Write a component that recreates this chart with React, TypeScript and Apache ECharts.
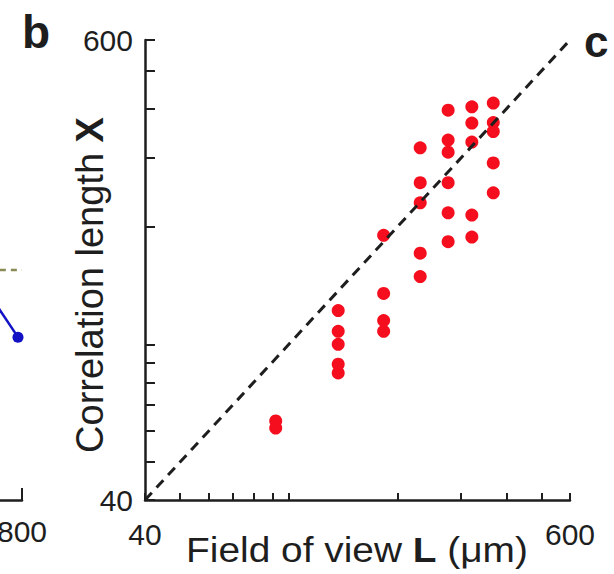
import React, { useEffect, useRef } from 'react';
import * as echarts from 'echarts';

// Panel b data: field of view L (µm) per column, correlation lengths X per column
const fieldOfView = [92, 137, 183, 231, 276, 321, 368];
const correlationLength = [
  [63.7, 61.1],
  [122, 108, 100, 89, 84.5],
  [190, 135, 115, 108],
  [318, 259, 230, 171, 149],
  [397, 333, 310, 259, 217, 183],
  [405, 368, 329, 214, 188],
  [414, 369, 350, 291, 244],
];
const axisMin = 40;
const axisMax = 600;
const tickValues = [40, 50, 60, 70, 80, 90, 100, 200, 300, 400, 500, 600];
const tickLabels = [40, 600];
const identityLine = [
  [40, 40],
  [600, 600],
];

// Fragment of neighbouring panel (a) at the left edge
const panelAMax = 800;
const panelATicks = [800];
const panelABlue = [
  [700, 0.472],
  [790, 0.354],
];
const panelADashed = [
  [745, 0.5],
  [800, 0.5],
];

const FONT = '"Liberation Sans", Arial, Helvetica, sans-serif';
const INK = '#1e1e1e';

export default function App() {
  const ref = useRef<HTMLDivElement>(null);
  useEffect(() => {
    document.body.style.margin = '0';
    const chart = echarts.init(ref.current!, null, { renderer: 'svg' });
    const scatterData: number[][] = [];
    fieldOfView.forEach((L, i) => {
      correlationLength[i].forEach((X) => scatterData.push([L, X]));
    });
    const axisLineStyle = { color: INK, width: 2.5 };
    const option: any = {
      animation: false,
      backgroundColor: '#ffffff',
      textStyle: { fontFamily: FONT },
      grid: [
        { left: 145, top: 40, width: 425, height: 460, outerBoundsMode: 'none', containLabel: false },
        { left: -300, top: 40, width: 322, height: 460, outerBoundsMode: 'none', containLabel: false },
      ],
      xAxis: [
        {
          type: 'log',
          gridIndex: 0,
          min: axisMin,
          max: axisMax,
          axisLine: { lineStyle: axisLineStyle },
          axisTick: {
            inside: true,
            length: 7,
            lineStyle: { color: INK, width: 2 },
            customValues: tickValues,
          },
          axisLabel: {
            customValues: tickLabels,
            fontSize: 30,
            color: INK,
            margin: 19,
            fontFamily: FONT,
          },
          splitLine: { show: false },
          minorTick: { show: false },
        },
        {
          type: 'value',
          gridIndex: 1,
          min: 0,
          max: panelAMax,
          axisLine: { lineStyle: axisLineStyle },
          axisTick: {
            inside: true,
            length: 12,
            lineStyle: { color: INK, width: 2 },
            customValues: panelATicks,
          },
          axisLabel: {
            customValues: panelATicks,
            fontSize: 30,
            color: INK,
            margin: 16,
            fontFamily: FONT,
          },
          splitLine: { show: false },
        },
      ],
      yAxis: [
        {
          type: 'log',
          gridIndex: 0,
          min: axisMin,
          max: axisMax,
          axisLine: { lineStyle: axisLineStyle },
          axisTick: {
            inside: true,
            length: 10,
            lineStyle: { color: INK, width: 2 },
            customValues: tickValues,
          },
          axisLabel: {
            customValues: tickLabels,
            fontSize: 30,
            color: INK,
            margin: 12,
            fontFamily: FONT,
          },
          splitLine: { show: false },
          minorTick: { show: false },
        },
        {
          type: 'value',
          gridIndex: 1,
          min: 0,
          max: 1,
          show: false,
        },
      ],
      series: [
        {
          type: 'scatter',
          xAxisIndex: 0,
          yAxisIndex: 0,
          data: scatterData,
          symbolSize: 13,
          itemStyle: { color: '#f50f1e', opacity: 1 },
          z: 2,
        },
        {
          type: 'line',
          xAxisIndex: 0,
          yAxisIndex: 0,
          data: identityLine,
          showSymbol: false,
          symbol: 'none',
          lineStyle: { color: INK, width: 3, type: [10, 7] },
          z: 3,
        },
        {
          type: 'line',
          xAxisIndex: 1,
          yAxisIndex: 1,
          data: panelABlue,
          symbol: 'circle',
          symbolSize: 11,
          itemStyle: { color: '#1212c4' },
          lineStyle: { color: '#1212c4', width: 2.5 },
          clip: false,
        },
        {
          type: 'line',
          xAxisIndex: 1,
          yAxisIndex: 1,
          data: panelADashed,
          symbol: 'none',
          lineStyle: { color: '#8a8a55', width: 2.5, type: [6, 5] },
          clip: false,
        },
      ],
      graphic: [
        {
          type: 'text',
          x: 22,
          y: 32,
          style: {
            text: 'b',
            fontSize: 46,
            fontWeight: 'bold',
            fontFamily: FONT,
            fill: INK,
            align: 'left',
            verticalAlign: 'middle',
          },
        },
        {
          type: 'text',
          x: 584,
          y: 41,
          style: {
            text: 'c',
            fontSize: 44,
            fontWeight: 'bold',
            fontFamily: FONT,
            fill: INK,
            align: 'left',
            verticalAlign: 'middle',
          },
        },
        {
          type: 'text',
          x: 357,
          y: 550,
          scaleX: 1.11,
          style: {
            text: 'Field of view {b|L} (μm)',
            fontSize: 35,
            fontFamily: FONT,
            fill: INK,
            align: 'center',
            verticalAlign: 'middle',
            rich: {
              b: { fontSize: 35, fontWeight: 'bold', fontFamily: FONT, fill: INK },
            },
          },
        },
        {
          type: 'text',
          x: 90,
          y: 285,
          rotation: Math.PI / 2,
          style: {
            text: 'Correlation length {b|X}',
            fontSize: 38,
            fontFamily: FONT,
            fill: INK,
            align: 'center',
            verticalAlign: 'middle',
            rich: {
              b: { fontSize: 38, fontWeight: 'bold', fontFamily: FONT, fill: INK },
            },
          },
        },
      ],
    };
    chart.setOption(option);
    return () => chart.dispose();
  }, []);
  return <div ref={ref} style={{ width: 614, height: 574 }} />;
}
